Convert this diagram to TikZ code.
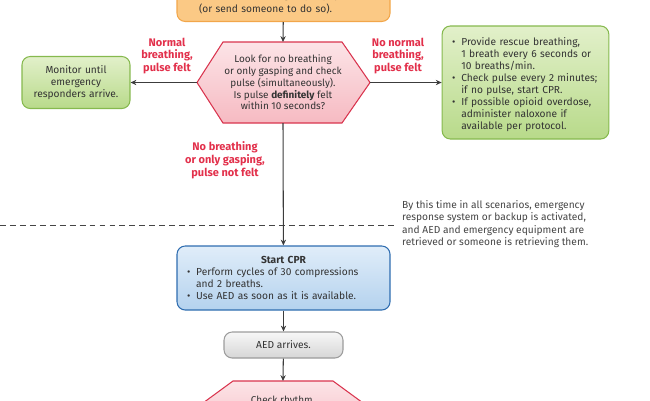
\documentclass[tikz,border=0pt]{standalone}
\usepackage{fontspec}
\setmainfont{Fira Sans}
\usetikzlibrary{arrows.meta}
\definecolor{linegray}{HTML}{3C3C3C}
\definecolor{txtgray}{HTML}{333333}
\definecolor{notegray}{HTML}{454545}
\definecolor{alertred}{HTML}{E2304B}
\definecolor{hexred}{HTML}{D9344E}
\definecolor{hextop}{HTML}{FCE4E7}
\definecolor{hexbot}{HTML}{F6BAC2}
\definecolor{greenline}{HTML}{86B94E}
\definecolor{greentop}{HTML}{E2F0CA}
\definecolor{greenbot}{HTML}{B8DA8A}
\definecolor{blueline}{HTML}{2F6DB0}
\definecolor{bluetop}{HTML}{E0EDF9}
\definecolor{bluebot}{HTML}{B4D2EE}
\definecolor{orangeline}{HTML}{F2A64A}
\definecolor{orangefill}{HTML}{FBC985}
\definecolor{grayline}{HTML}{9C9C9C}
\definecolor{graytop}{HTML}{F7F7F7}
\definecolor{graybot}{HTML}{D6D6D6}
\tikzset{>={Stealth[length=5pt,width=4.5pt]}}
\tikzset{%
    roundbox/.style={draw, rounded corners=7pt, line width=0.9pt, text=txtgray,
        font=\fontsize{8.7}{10.2}\selectfont, align=center},
    greenbox/.style={roundbox, draw=greenline, top color=greentop, bottom color=greenbot},
    bluebox/.style={roundbox, draw=blueline, top color=bluetop, bottom color=bluebot},
    graybox/.style={roundbox, draw=grayline, top color=graytop, bottom color=graybot},
    orangebox/.style={roundbox, draw=orangeline, fill=orangefill},
    hexline/.style={draw=hexred, line width=0.9pt, top color=hextop, bottom color=hexbot},
    hextext/.style={text=txtgray, font=\fontsize{8.5}{10}\selectfont, align=center},
    alert/.style={text=alertred, font=\bfseries\fontsize{9.4}{11}\selectfont, align=center},
    flow/.style={->, line width=0.9pt, linegray}
}
\newcommand{\bitem}[1]{\par\hangindent=0.9em\hangafter=1\noindent\makebox[0.9em][l]{\textbullet}#1}

\begin{document}
\begin{tikzpicture}[x=0.3mm,y=-0.3mm]
	\useasboundingbox (0,0) rectangle (650,400);
	\clip (0,0) rectangle (650,400);

	\node[orangebox, anchor=south, text width=50.7mm, inner xsep=6.6mm, inner ysep=2.3mm, align=left,
		font=\fontsize{8.7}{12}\selectfont] (call) at (283.5,22)
		{Get AED and emergency equipment\\(or send someone to do so).};

	\coordinate (pulsen) at (283,42);
	\coordinate (pulses) at (283,123);
	\coordinate (pulsew) at (197,82.5);
	\coordinate (pulsee) at (370,82.5);
	\path[hexline] (223,42) -- (342,42) -- (pulsee) -- (342,123) -- (223,123) -- (pulsew) -- cycle;
	\node[hextext] (pulse) at (283,82.5) {Look for no breathing\\or only gasping and check\\pulse (simultaneously).\\Is pulse \textbf{definitely} felt\\within 10 seconds?};

	\node[greenbox, minimum width=32.4mm, minimum height=15.6mm, text width=30mm] (monitor) at (76,82.5)
		{Monitor until\\emergency\\responders arrive.};

	\node[greenbox, minimum height=33.9mm, text width=44mm, inner xsep=3mm, align=left] (rescue) at (525.5,82.5)
		{\bitem{Provide rescue breathing,\newline 1 breath every 6 seconds or\newline 10 breaths/min.}
		 \bitem{Check pulse every 2 minutes;\newline if no pulse, start CPR.}
		 \bitem{If possible opioid overdose,\newline administer naloxone if\newline available per protocol.}\par};

	\node[alert] (normal) at (167,56) {Normal\\breathing,\\pulse felt};
	\node[alert] (nonormal) at (398,56) {No normal\\breathing,\\pulse felt};
	\node[alert] (nobreath) at (225,160) {No breathing\\or only gasping,\\pulse not felt};

	\draw[dashed, dash pattern=on 5pt off 3.5pt, line width=0.8pt, notegray] (0,225) -- (395,225);
	\node[anchor=west, align=left, text=notegray, font=\fontsize{8.7}{10.6}\selectfont] (note) at (398,224)
		{By this time in all scenarios, emergency\\response system or backup is activated,\\and AED and emergency equipment are\\retrieved or someone is retrieving them.};

	\node[bluebox, minimum height=19.2mm, text width=57.9mm, inner xsep=3mm, align=left] (cpr) at (283.5,278)
		{{\centering\textbf{Start CPR}\par}
		 \bitem{Perform cycles of 30 compressions\newline and 2 breaths.}
		 \bitem{Use AED as soon as it is available.}\par};

	\node[graybox, minimum width=35.7mm, minimum height=7.8mm] (aed) at (283.5,345) {AED arrives.};

	\coordinate (rhythmn) at (283,381);
	\path[hexline] (233,381) -- (333,381) -- (374,411) -- (333,441) -- (233,441) -- (192,411) -- cycle;
	\node[hextext, anchor=north] (rhythm) at (283,392) {Check rhythm.};

	\draw[flow] (call) -- (pulsen);
	\draw[flow] (pulsew) -- (monitor);
	\draw[flow] (pulsee) -- (rescue);
	\draw[flow] (pulses) -- (cpr);
	\draw[flow] (cpr) -- (aed);
	\draw[flow] (aed) -- (rhythmn);
\end{tikzpicture}
\end{document}
